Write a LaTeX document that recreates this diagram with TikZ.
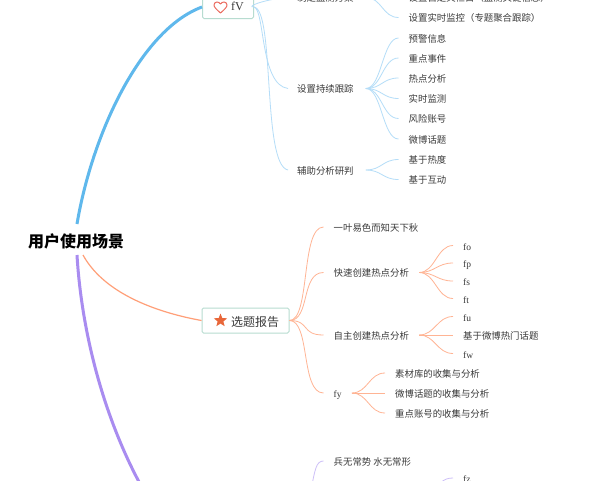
\documentclass[tikz,border=0pt]{standalone}
\usepackage{fontspec}
\setmainfont{Liberation Serif}
\newfontfamily\cjk{Noto Sans CJK SC}
\usetikzlibrary{shapes.geometric,calc}
\definecolor{bluemain}{HTML}{5FB8EC}
\definecolor{bluethin}{HTML}{B5DDF8}
\definecolor{orangethin}{HTML}{FFB494}
\definecolor{orangemain}{HTML}{FF9F78}
\definecolor{purplemain}{HTML}{A98CF0}
\definecolor{purplethin}{HTML}{CDBFF8}
\definecolor{boxedge}{HTML}{B7DCD0}
\definecolor{txt}{HTML}{3A3A3A}
\definecolor{staricon}{HTML}{E8673A}
\definecolor{hearticon}{HTML}{EB6A5E}
\tikzset{
 leaf/.style={anchor=west,inner sep=0pt,text=txt,text height=10pt,text depth=1.6pt,font=\cjk\fontsize{9.4}{10}\selectfont},
 lat/.style={anchor=west,inner sep=0pt,text=txt,text height=10pt,text depth=1pt,font=\fontsize{9.5}{10}\selectfont},
 topic/.style={draw=boxedge,line width=1pt,rounded corners=1.5pt,fill=white,inner sep=0pt},
 toptext/.style={anchor=west,inner sep=0pt,text=txt},
 bl/.style={bluethin,line width=.8pt},
 or/.style={orangethin,line width=.8pt},
 pu/.style={purplethin,line width=.8pt},
}
% fan: style, parent node, child node, gap after the parent
\newcommand{\fanlink}[4]{\draw[#1] ([xshift=#4pt]#2.east) .. controls +(16,0) and +(-16,0) .. ([xshift=-10pt]#3.west);}
\begin{document}
\begin{tikzpicture}[x=1pt,y=-1pt]
\useasboundingbox (0,0) rectangle (600,480);
\clip (0,0) rectangle (600,480);
\fill[white] (0,0) rectangle (600,480);
% root
\node[inner sep=0pt,font=\cjk\bfseries\fontsize{16}{16}\selectfont,text=black] (root) at (76,241) {用户使用场景};
\coordinate (rb) at (77,224);
\coordinate (ro) at (83,255);
\coordinate (rp) at (77,255);
\coordinate (pend) at (148,498);
% topics
\node[topic,minimum width=51pt,minimum height=23pt] (fv) at (228,7) {};
\node[toptext,font=\fontsize{12}{12}\selectfont] (fvt) at (231,6.5) {fV};
\node[topic,minimum width=87pt,minimum height=25pt] (xt) at (245.5,320.5) {};
\node[toptext,font=\cjk\fontsize{12}{12}\selectfont] (xtt) at (231,321.5) {选题报告};
\node[star,star points=5,star point ratio=2.3,fill=staricon,minimum size=14pt,inner sep=0pt] (st) at (220.5,320.5) {};
\draw[hearticon,line width=1pt,line join=round] (220.5,13) .. controls (216,9) and (214,7) .. (214,5) .. controls (214,1.5) and (218.8,1) .. (220.5,4) .. controls (222.2,1) and (227,1.5) .. (227,5) .. controls (227,7) and (225,9) .. (220.5,13) -- cycle;
% main links
\draw[bluemain,line width=3pt] (rb) .. controls (92,135) and (140,30) .. (fv.west);
\draw[orangemain,line width=1.2pt] (ro) .. controls (105,295) and (160,313) .. (xt.west);
\draw[purplemain,line width=3pt] (rp) .. controls (82,340) and (108,430) .. (pend);
% blue branches
\node[leaf] (a1) at (297,-2.5) {制定监测方案};
\node[leaf] (a2) at (297,88.5) {设置持续跟踪};
\node[leaf] (a3) at (297,170) {辅助分析研判};
\draw[bl] (fv.east) .. controls (245,7) and (265,-1) .. ([xshift=-9pt]a1.west);
\draw[bl] (fv.east) .. controls (265,10) and (260,85) .. ([xshift=-9pt]a2.west);
\draw[bl] (fv.east) .. controls (275,10) and (262,165) .. ([xshift=-9pt]a3.west);
\node[leaf] (b0) at (408.5,-2.5) {设置自定义栏目（监测关键信息）};
\node[leaf] (b1) at (408.5,17.5) {设置实时监控（专题聚合跟踪）};
\node[leaf] (c1) at (408.5,38) {预警信息};
\node[leaf] (c2) at (408.5,58) {重点事件};
\node[leaf] (c3) at (408.5,78) {热点分析};
\node[leaf] (c4) at (408.5,98.5) {实时监测};
\node[leaf] (c5) at (408.5,118.5) {风险账号};
\node[leaf] (c6) at (408.5,139) {微博话题};
\node[leaf] (d1) at (408.5,159.5) {基于热度};
\node[leaf] (d2) at (408.5,179.5) {基于互动};
\foreach \n in {b0,b1}{\fanlink{bl}{a1}{\n}{12}}
\foreach \n in {c1,c2,c3,c4,c5,c6}{\fanlink{bl}{a2}{\n}{12}}
\foreach \n in {d1,d2}{\fanlink{bl}{a3}{\n}{12}}
% orange branches
\node[leaf] (e1) at (333.5,227) {一叶易色而知天下秋};
\node[leaf] (e2) at (333.5,272.5) {快速创建热点分析};
\node[leaf] (e3) at (333.5,335) {自主创建热点分析};
\node[lat] (e4) at (333.5,393) {fy};
\foreach \n in {e1,e2,e3,e4}{
 \draw[or] (xt.east) .. controls +(21,0) and +(-23,0) .. ([xshift=-10pt]\n.west);
}
\node[lat] (f1) at (463,245.5) {fo};
\node[lat] (f2) at (463,263) {fp};
\node[lat] (f3) at (463,281) {fs};
\node[lat] (f4) at (463,298.5) {ft};
\node[lat] (g1) at (463,316.5) {fu};
\node[leaf] (g2) at (463,335) {基于微博热门话题};
\node[lat] (g3) at (463,353.5) {fw};
\node[leaf] (h1) at (395,373) {素材库的收集与分析};
\node[leaf] (h2) at (395,393) {微博话题的收集与分析};
\node[leaf] (h3) at (395,413) {重点账号的收集与分析};
\foreach \n in {f1,f2,f3,f4}{\fanlink{or}{e2}{\n}{10}}
\foreach \n in {g1,g2,g3}{\fanlink{or}{e3}{\n}{10}}
\foreach \n in {h1,h2,h3}{\fanlink{or}{e4}{\n}{10}}
% purple
\node[leaf] (p1) at (333.5,461) {兵无常势 水无常形};
\node[lat] (p2) at (463,478) {fz};
\coordinate (pu1) at (311,490);
\coordinate (pu2) at (440,483);
\draw[pu] (pu1) .. controls (315,470) and (316,461) .. ([xshift=-10pt]p1.west);
\draw[pu] (pu2) .. controls (445,479) and (448,478) .. ([xshift=-10pt]p2.west);
\end{tikzpicture}
\end{document}
